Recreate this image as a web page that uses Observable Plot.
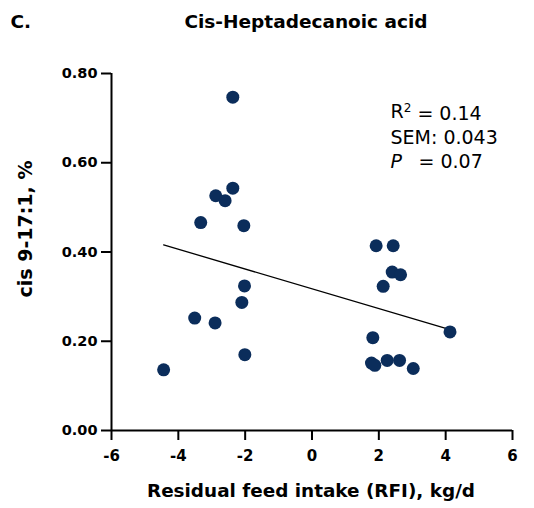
<!DOCTYPE html>
<html>
<head>
<meta charset="utf-8">
<script src="https://cdn.jsdelivr.net/npm/d3@7"></script>
<script src="https://cdn.jsdelivr.net/npm/@observablehq/plot@0.6"></script>
<style>
  html, body { margin: 0; padding: 0; background: white; }
</style>
</head>
<body>
<div id="chart"></div>
<script>
// RFI (kg/d) and cis 9-17:1 (%) per animal
const rfi = [-4.44, -3.51, -3.33, -2.90, -2.88, -2.60, -2.37, -2.37, -2.04, -2.02, -2.10, -2.01,
             1.92, 2.43, 2.40, 2.65, 2.13, 1.82, 1.78, 1.88, 2.25, 2.62, 3.03, 4.13];
const cis = [0.136, 0.252, 0.466, 0.241, 0.526, 0.515, 0.747, 0.543, 0.459, 0.324, 0.287, 0.170,
             0.414, 0.414, 0.355, 0.349, 0.323, 0.208, 0.151, 0.146, 0.157, 0.157, 0.139, 0.221];
// fitted regression line end points
const fitX = [-4.44, 4.13];
const fitY = [0.416, 0.226];
const xTicks = [-6, -4, -2, 0, 2, 4, 6];
const yTicks = [0, 0.2, 0.4, 0.6, 0.8];
const title = "Cis-Heptadecanoic acid";
const panel = "C.";
const xLabel = "Residual feed intake (RFI), kg/d";
const yLabel = "cis 9-17:1, %";
const r2Text = "R2 = 0.14";
const semText = "SEM: 0.043";
const pLabel = "P";
const pValue = "= 0.07";

const points = rfi.map((x, i) => ({x, y: cis[i]}));
const fit = fitX.map((x, i) => ({x, y: fitY[i]}));
const font = "'DejaVu Sans', sans-serif";

const chart = Plot.plot({
  width: 534,
  height: 508,
  marginLeft: 111,
  marginRight: 22,
  marginTop: 73,
  marginBottom: 78,
  style: {fontFamily: font, background: "white", color: "black"},
  x: {domain: [-6, 6]},
  y: {domain: [0, 0.8]},
  marks: [
    Plot.axisX({ticks: xTicks, tickSize: 10, tickPadding: 10, strokeWidth: 2, fontSize: 15, fontWeight: "bold",
                label: null, tickFormat: d => (d < 0 ? "-" + Math.abs(d) : String(d))}),
    Plot.axisY({ticks: yTicks, tickSize: 10, tickPadding: 4, strokeWidth: 2, fontSize: 14.5, fontWeight: "bold",
                label: null, tickFormat: d3.format(".2f")}),
    Plot.ruleX([-6], {strokeWidth: 2}),
    Plot.ruleY([0], {strokeWidth: 2}),
    Plot.line(fit, {x: "x", y: "y", stroke: "black", strokeWidth: 1.3}),
    Plot.dot(points, {x: "x", y: "y", r: 6.5, fill: "#0b2d5b"}),
    Plot.text([title], {frameAnchor: "top", textAnchor: "middle", dx: -6, dy: -46, lineAnchor: "bottom", fontSize: 18.5, fontWeight: "bold"}),
    Plot.text([panel], {frameAnchor: "top-left", textAnchor: "start", dx: -101, dy: -46, lineAnchor: "bottom", fontSize: 18.5, fontWeight: "bold"}),
    Plot.text([xLabel], {frameAnchor: "bottom", textAnchor: "middle", dx: -1, dy: 66, lineAnchor: "bottom", fontSize: 18.4, fontWeight: "bold"}),
    Plot.text([yLabel], {frameAnchor: "left", textAnchor: "middle", dx: -86, dy: -23, rotate: -90, lineAnchor: "middle", fontSize: 19, fontWeight: "bold"}),
    Plot.text([r2Text], {frameAnchor: "top-left", textAnchor: "start", dx: 279, dy: 44, lineAnchor: "bottom", fontSize: 19, className: "r2"}),
    Plot.text([semText], {frameAnchor: "top-left", textAnchor: "start", dx: 279, dy: 70, lineAnchor: "bottom", fontSize: 19}),
    Plot.text([pLabel], {frameAnchor: "top-left", textAnchor: "start", dx: 279, dy: 94, lineAnchor: "bottom", fontSize: 19, fontStyle: "italic"}),
    Plot.text([pValue], {frameAnchor: "top-left", textAnchor: "start", dx: 307, dy: 94, lineAnchor: "bottom", fontSize: 19})
  ]
});
document.getElementById("chart").appendChild(chart);

// render the "2" of R2 as a superscript
d3.select(chart).selectAll("text").filter(function () { return this.textContent === r2Text; })
  .each(function () {
    const t = d3.select(this);
    t.text(null);
    t.append("tspan").text("R");
    t.append("tspan").attr("dy", "-0.42em").attr("font-size", "12px").text("2");
    t.append("tspan").attr("dy", "0.42em").text(" = 0.14");
  });
</script>
</body>
</html>
